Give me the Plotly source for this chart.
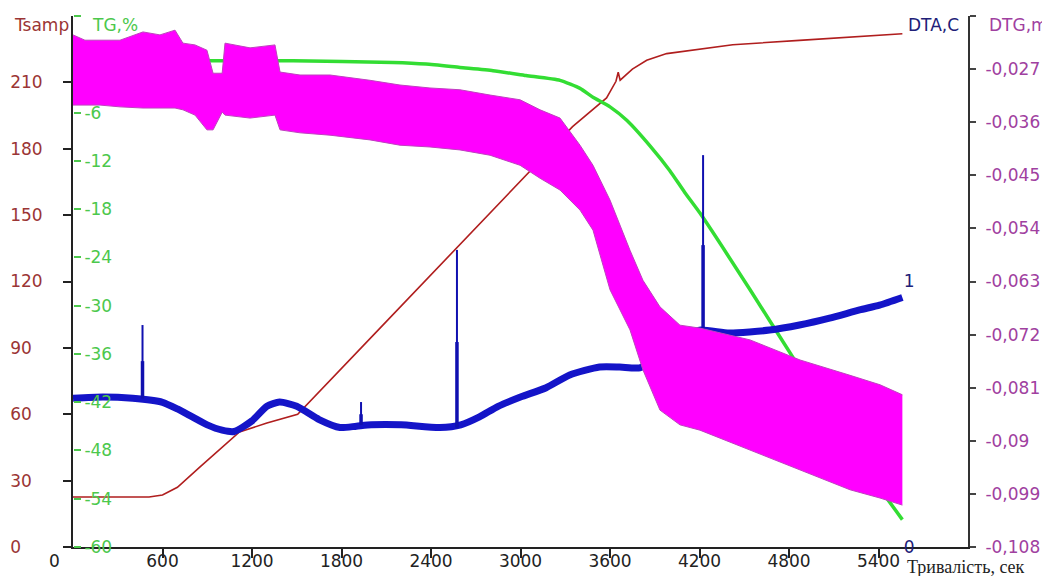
import plotly.graph_objects as go

# ---------------- data (time in seconds) ----------------
tsamp_t = [0, 510, 600, 700, 848, 982, 1116, 1300, 1506, 2055, 2571, 3349, 3577, 3640, 3655, 3668, 3750, 3846, 3980, 4423, 4870, 5560]
tsamp_v = [22.6, 22.6, 23.5, 27, 36, 44, 52, 56, 60, 98.7, 135, 190, 203, 210.5, 214.6, 211, 216, 220, 223, 227, 229, 232]

tg_t = [0, 900, 1475, 2145, 2367, 2594, 2816, 3037, 3265, 3399, 3486, 3600, 3714, 3875, 4000, 4100, 4203, 4538, 4873, 5208, 5560]
tg_v = [0.45, 0.43, 0.43, 0.22, 0.02, -0.4, -0.8, -1.4, -2.0, -3.0, -4.1, -5.3, -7.0, -10.3, -13.2, -15.9, -18.5, -28.0, -37.8, -47.5, -56.6]

dta_t = [0, 200, 400, 600, 700, 800, 900, 1000, 1080, 1200, 1300, 1385, 1500, 1650, 1790, 1900, 2000, 2200, 2460, 2600, 2725, 2850, 3000, 3172, 3330, 3530, 3664, 3800, 3935, 4070, 4200, 4400, 4670, 4870, 5072, 5273, 5407, 5560]
dta_v = [0.56, 0.565, 0.56, 0.545, 0.52, 0.49, 0.46, 0.44, 0.435, 0.475, 0.53, 0.546, 0.53, 0.48, 0.45, 0.455, 0.46, 0.46, 0.45, 0.46, 0.49, 0.53, 0.565, 0.60, 0.648, 0.678, 0.678, 0.675, 0.72, 0.785, 0.817, 0.806, 0.817, 0.836, 0.862, 0.893, 0.911, 0.94]

spike_t = [466, 1931, 2574, 4224]
spike_base = [0.56, 0.46, 0.45, 0.817]
spike_mid = [0.70, 0.50, 0.772, 1.137]
spike_top = [0.836, 0.546, 1.119, 1.476]

dtg_t = [0, 80, 181, 315, 469, 583, 684, 737, 818, 898, 939, 1000, 1019, 1187, 1354, 1388, 1522, 1723, 1991, 2192,
         2393, 2594, 2796, 2997, 3131, 3265, 3399, 3486, 3600, 3734, 3821, 3935, 4069, 4203, 4539, 4874, 5209, 5410, 5560]
dtg_upper = [-0.0212, -0.0221, -0.0221, -0.0221, -0.0207, -0.0212, -0.0204, -0.0226, -0.0229, -0.0238, -0.0277, -0.0277,
             -0.0226, -0.0234, -0.0229, -0.0275, -0.0280, -0.0280, -0.0289, -0.0297, -0.0302, -0.0305, -0.0314, -0.0322,
             -0.0339, -0.0353, -0.0399, -0.0433, -0.0492, -0.0577, -0.0628, -0.0673, -0.0704, -0.0709, -0.0729, -0.0763,
             -0.0789, -0.0805, -0.0822]
dtg_lower = [-0.0331, -0.0331, -0.0331, -0.0334, -0.0336, -0.0336, -0.0336, -0.0339, -0.0348, -0.0373, -0.0373, -0.0343,
             -0.0348, -0.0353, -0.0348, -0.0373, -0.0378, -0.0382, -0.0390, -0.0399, -0.0402, -0.0407, -0.0416, -0.0433,
             -0.0455, -0.0475, -0.0509, -0.0543, -0.0644, -0.0712, -0.0780, -0.0848, -0.0873, -0.0882, -0.0916, -0.0950,
             -0.0983, -0.0997, -0.1009]

x_ticks = [600, 1200, 1800, 2400, 3000, 3600, 4200, 4800, 5400]
t_ticks = [0, 30, 60, 90, 120, 150, 180, 210]
tg_ticks = [-60, -54, -48, -42, -36, -30, -24, -18, -12, -6]
dtg_ticks = [-0.027, -0.036, -0.045, -0.054, -0.063, -0.072, -0.081, -0.09, -0.099, -0.108]
dtg_labels = ["-0,027", "-0,036", "-0,045", "-0,054", "-0,063", "-0,072", "-0,081", "-0,09", "-0,099", "-0,108"]

# ---------------- styling ----------------
FONT = "DejaVu Sans"
FS = 17
RED_TXT = "#9b3535"
RED_LINE = "#b01e1e"
GREEN_TXT = "#4cc84c"
GREEN_LINE = "#33dd33"
NAVY_TXT = "#202078"
BLUE_LINE = "#1414c8"
PURPLE_TXT = "#a040a0"
MAGENTA = "#ff00ff"
AX = "#222222"

NBSP = "\u00a0"
def pad(s):
    return s + NBSP * (2 * (3 - len(s)))

fig = go.Figure()

fig.add_trace(go.Scatter(x=tsamp_t, y=tsamp_v, mode="lines", yaxis="y",
                         line=dict(color=RED_LINE, width=1.6), hoverinfo="skip"))
fig.add_trace(go.Scatter(x=tg_t, y=tg_v, mode="lines", yaxis="y2",
                         line=dict(color=GREEN_LINE, width=3.5, shape="spline", smoothing=0.5), hoverinfo="skip"))
fig.add_trace(go.Scatter(x=dta_t, y=dta_v, mode="lines", yaxis="y3",
                         line=dict(color=BLUE_LINE, width=7, shape="spline", smoothing=0.6), hoverinfo="skip"))

sx, sy, mx, my = [], [], [], []
for t, b, m, tp in zip(spike_t, spike_base, spike_mid, spike_top):
    sx += [t, t, None]
    sy += [b, tp, None]
    mx += [t, t, None]
    my += [b, m, None]
fig.add_trace(go.Scatter(x=sx, y=sy, mode="lines", yaxis="y3",
                         line=dict(color="#1010b0", width=2), hoverinfo="skip"))
fig.add_trace(go.Scatter(x=mx, y=my, mode="lines", yaxis="y3",
                         line=dict(color="#1010b0", width=3.5), hoverinfo="skip"))

fig.add_trace(go.Scatter(x=dtg_t, y=dtg_lower, mode="lines", yaxis="y4",
                         line=dict(color="#c040c0", width=1), hoverinfo="skip"))
fig.add_trace(go.Scatter(x=dtg_t, y=dtg_upper, mode="lines", yaxis="y4", fill="tonexty",
                         fillcolor=MAGENTA, line=dict(color="#c040c0", width=1), hoverinfo="skip"))

fig.update_layout(
    width=1042, height=576,
    margin=dict(l=73, r=74, t=16, b=29),
    paper_bgcolor="white", plot_bgcolor="white",
    showlegend=False,
    font=dict(family=FONT, size=FS),
    xaxis=dict(range=[0, 6000], tickvals=x_ticks, ticktext=[str(v) for v in x_ticks],
               ticks="outside", ticklen=9, tickwidth=1.5, tickcolor=AX, automargin=False,
               showline=True, linecolor=AX, linewidth=2, showgrid=False, zeroline=False,
               ticklabelstandoff=-11,
               tickfont=dict(family=FONT, size=FS, color=AX)),
    yaxis=dict(range=[0, 240], tickvals=t_ticks, ticktext=[pad(str(v)) for v in t_ticks],
               ticks="outside", ticklen=8, tickwidth=1.5, tickcolor=AX, automargin=False,
               showline=True, linecolor=AX, linewidth=2, showgrid=False, zeroline=False,
               ticklabelstandoff=17,
               tickfont=dict(family=FONT, size=FS, color=RED_TXT)),
    yaxis2=dict(range=[-60, 6], overlaying="y", anchor="free", position=0, side="right",
                tickvals=tg_ticks + [6], ticktext=[str(v) for v in tg_ticks] + [""],
                ticks="outside", ticklen=7, tickwidth=1.5, tickcolor=GREEN_TXT, automargin=False,
                showline=False, showgrid=False, zeroline=False,
                tickfont=dict(family=FONT, size=FS, color=GREEN_TXT)),
    yaxis3=dict(range=[0, 2], overlaying="y", anchor="free", position=0.927, side="right",
                tickvals=[0, 1], ticktext=["0", "1"], ticks="", automargin=False,
                showline=False, showgrid=False, zeroline=False,
                tickfont=dict(family=FONT, size=FS, color=NAVY_TXT)),
    yaxis4=dict(range=[-0.108, -0.018], overlaying="y", anchor="x", side="right",
                tickvals=dtg_ticks + [-0.018], ticktext=dtg_labels + [""],
                ticks="outside", ticklen=6, tickwidth=1.5, tickcolor="#444", automargin=False,
                showline=True, linecolor="#333", linewidth=2, showgrid=False, zeroline=False,
                ticklabelstandoff=6,
                tickfont=dict(family=FONT, size=FS, color=PURPLE_TXT)),
)

ann = [
    dict(text="Tsamp", x=(12 - 73) / 895, y=(547 - 25) / 531, color=RED_TXT, family=FONT, size=FS),
    dict(text="TG,%", x=(90 - 73) / 895, y=(547 - 25) / 531, color=GREEN_TXT, family=FONT, size=FS),
    dict(text="DTA,C", x=(906 - 73) / 895, y=(547 - 25) / 531, color=NAVY_TXT, family=FONT, size=FS),
    dict(text="DTG,mg/min", x=(987 - 73) / 895, y=(547 - 25) / 531, color=PURPLE_TXT, family=FONT, size=FS),
    dict(text="0", x=(47 - 73) / 895, y=(547 - 561) / 531, color=AX, family=FONT, size=FS),
    dict(text="Тривалість, сек", x=(905 - 73) / 895, y=(547 - 567) / 531, color=AX,
         family="Liberation Serif", size=18),
]
for a in ann:
    fig.add_annotation(text=a["text"], x=a["x"], y=a["y"], xref="paper", yref="paper",
                       xanchor="left", yanchor="middle", showarrow=False,
                       font=dict(family=a["family"], size=a["size"], color=a["color"]))

fig.write_html("out.html")
